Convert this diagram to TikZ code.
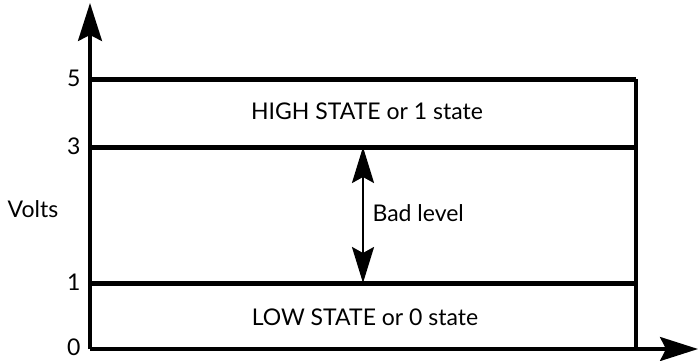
\documentclass[tikz,border=0pt]{standalone}
\usepackage{fontspec}
\setmainfont{Lato}
\usetikzlibrary{arrows.meta}

\tikzset{
  axis/.style={line width=3.2pt, -{Stealth[length=38pt,width=24pt,inset=6pt]}},
  level/.style={line width=5pt},
  lbl/.style={font=\fontsize{23}{27}\selectfont},
  bandarrow/.style={line width=2.6pt, {Stealth[length=36pt,width=22pt,inset=6pt]}-{Stealth[length=36pt,width=22pt,inset=6pt]}},
}

\begin{document}
\begin{tikzpicture}[x=1pt,y=1pt]
  \useasboundingbox (0,0) rectangle (698,360);
  % axes
  \coordinate (o) at (90,11);
  \coordinate (ytip) at (90,357);
  \coordinate (xtip) at (698,11);
  \draw[axis] (o) -- (ytip);
  \draw[axis] (o) -- (xtip);
  % voltage levels
  \coordinate (l5) at (90,281);
  \coordinate (r5) at (636,281);
  \coordinate (l3) at (90,213);
  \coordinate (r3) at (636,213);
  \coordinate (l1) at (90,77);
  \coordinate (r1) at (636,77);
  \coordinate (r0) at (636,11);
  \draw[level] (l5) -- (r5);
  \draw[level] (l3) -- (r3);
  \draw[level] (l1) -- (r1);
  \draw[line width=3.4pt] (r5) -- (r0);
  % tick labels
  \node[lbl, anchor=east] (t5) at (84,282) {5};
  \node[lbl, anchor=east] (t3) at (84,214) {3};
  \node[lbl, anchor=east] (t1) at (84,78) {1};
  \node[lbl, anchor=east] (t0) at (84,13) {0};
  \node[lbl] (volts) at (33,151) {Volts};
  % state labels
  \node[lbl] (high) at (367,249) {HIGH STATE or 1 state};
  \node[lbl] (low) at (365,43) {LOW STATE or 0 state};
  % forbidden band
  \coordinate (btop) at (363,213);
  \coordinate (bbot) at (363,77);
  \draw[bandarrow] (bbot) -- (btop);
  \node[lbl, anchor=west] (bad) at (369,147) {Bad level};
\end{tikzpicture}
\end{document}
